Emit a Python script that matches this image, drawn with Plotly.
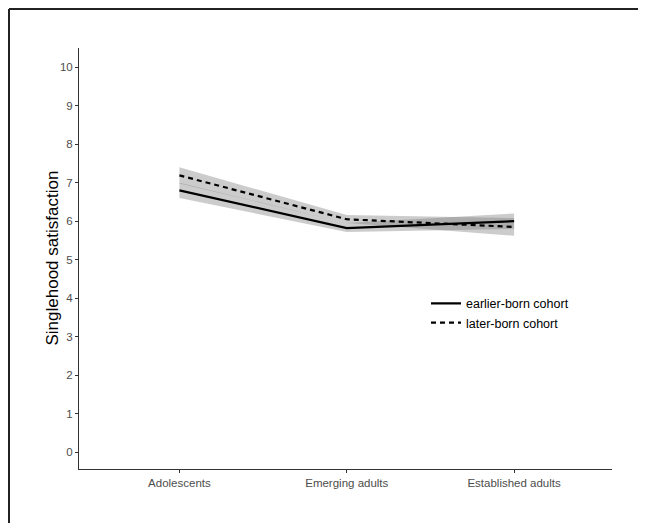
import plotly.graph_objects as go

stages = ["Adolescents", "Emerging adults", "Established adults"]
earlier_mean = [6.80, 5.82, 6.00]
earlier_lo = [6.60, 5.72, 5.80]
earlier_hi = [7.00, 5.95, 6.20]
later_mean = [7.19, 6.05, 5.85]
later_lo = [6.98, 5.95, 5.62]
later_hi = [7.40, 6.16, 6.08]
y_ticks = list(range(0, 11))

xi = list(range(len(stages)))
band_color = "rgba(120,120,120,0.38)"

L, T, PW, PH = 71, 40, 533, 421
W, H = 646, 523

fig = go.Figure()

for lo, hi in [(earlier_lo, earlier_hi), (later_lo, later_hi)]:
    fig.add_trace(go.Scatter(x=xi + xi[::-1], y=hi + lo[::-1], fill="toself",
                             fillcolor=band_color, line=dict(width=0),
                             mode="lines", hoverinfo="skip", showlegend=False))

fig.add_trace(go.Scatter(x=xi, y=earlier_mean, mode="lines", name="earlier-born cohort",
                         line=dict(color="black", width=2.2)))
fig.add_trace(go.Scatter(x=xi, y=later_mean, mode="lines", name="later-born cohort",
                         line=dict(color="black", width=2.2, dash="5px,4px")))

fig.update_layout(
    width=W, height=H,
    margin=dict(l=L, r=W - L - PW, t=T, b=H - T - PH, autoexpand=False),
    paper_bgcolor="white", plot_bgcolor="white",
    font=dict(family="Liberation Sans, Arial, sans-serif", color="#4d4d4d", size=11),
    showlegend=True,
    legend=dict(x=0.651, y=0.428, xanchor="left", yanchor="top",
                bgcolor="rgba(0,0,0,0)", font=dict(size=12.5, color="black"),
                tracegroupgap=0, itemwidth=30),
    xaxis=dict(range=[-0.6, 2.585], tickmode="array", tickvals=xi, ticktext=stages,
               showgrid=False, zeroline=False, showline=True, linecolor="#333333",
               linewidth=1, ticks="outside", ticklen=3, tickcolor="#333333",
               tickfont=dict(size=11.5, color="#4d4d4d"), automargin=False),
    yaxis=dict(range=[-0.44, 10.5], tickmode="array", tickvals=y_ticks,
               showgrid=False, zeroline=False, showline=True, linecolor="#333333",
               linewidth=1, ticks="outside", ticklen=3, tickcolor="#333333",
               tickfont=dict(size=11.5, color="#4d4d4d"), automargin=False),
    annotations=[
        dict(text="Singlehood satisfaction", xref="paper", yref="paper",
             x=-27 / PW, y=0.5, xanchor="center", yanchor="middle",
             textangle=-90, showarrow=False, font=dict(size=17, color="black")),
    ],
    shapes=[
        dict(type="line", xref="paper", yref="paper",
             x0=-(L - 1) / PW, x1=(W - L) / PW, y0=1 + (T - 1) / PH, y1=1 + (T - 1) / PH,
             line=dict(color="#222222", width=2)),
        dict(type="line", xref="paper", yref="paper",
             x0=-(L - 1) / PW, x1=-(L - 1) / PW, y0=1 + (T - 1) / PH, y1=-(H - T - PH) / PH,
             line=dict(color="#222222", width=2)),
    ],
)

fig.write_html("out.html")
